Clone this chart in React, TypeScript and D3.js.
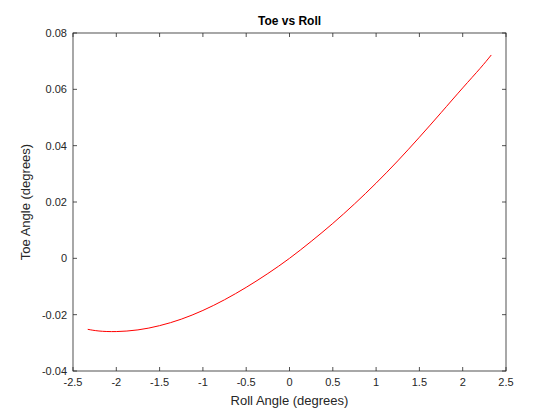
import * as d3 from "d3";

const rollAngle = [-2.33, -2.2, -2.0, -1.75, -1.5, -1.25, -1.0, -0.75, -0.5, -0.25, 0, 0.25, 0.5, 0.75, 1.0, 1.25, 1.5, 1.75, 2.0, 2.2, 2.33];
const toeAngle = [-0.0252, -0.0258, -0.0260, -0.0254, -0.0239, -0.0216, -0.0185, -0.0147, -0.0103, -0.0054, 0.0, 0.0060, 0.0124, 0.0193, 0.0267, 0.0346, 0.0430, 0.0517, 0.0605, 0.0674, 0.0722];
const xTicks = [-2.5, -2, -1.5, -1, -0.5, 0, 0.5, 1, 1.5, 2, 2.5];
const yTicks = [-0.04, -0.02, 0, 0.02, 0.04, 0.06, 0.08];

export default function App() {
  const width = 560, height = 420;
  const left = 73, right = 506, top = 33, bottom = 371;
  const x = d3.scaleLinear().domain([-2.5, 2.5]).range([left, right]);
  const y = d3.scaleLinear().domain([-0.04, 0.08]).range([bottom, top]);
  const pts = rollAngle.map((r, i) => [r, toeAngle[i]] as [number, number]);
  const line = d3.line<[number, number]>().x(d => x(d[0])).y(d => y(d[1])).curve(d3.curveNatural);
  const font = "'Liberation Sans', Arial, sans-serif";
  const c = "#262626";
  return (
    <svg width={width} height={height} style={{ position: "fixed", left: 0, top: 0, background: "#fff" }} fontFamily={font}>
      <rect x={0} y={0} width={width} height={height} fill="#fff" />
      <rect x={left} y={top} width={right - left} height={bottom - top} fill="#fff" stroke={c} strokeWidth={0.8} />
      {xTicks.map(t => (
        <g key={"x" + t}>
          <line x1={x(t)} x2={x(t)} y1={bottom} y2={bottom - 4} stroke={c} strokeWidth={0.8} />
          <line x1={x(t)} x2={x(t)} y1={top} y2={top + 4} stroke={c} strokeWidth={0.8} />
          <text x={x(t)} y={bottom + 15} textAnchor="middle" fontSize={11} fill={c}>{t}</text>
        </g>
      ))}
      {yTicks.map(t => (
        <g key={"y" + t}>
          <line x1={left} x2={left + 4} y1={y(t)} y2={y(t)} stroke={c} strokeWidth={0.8} />
          <line x1={right} x2={right - 4} y1={y(t)} y2={y(t)} stroke={c} strokeWidth={0.8} />
          <text x={left - 6} y={y(t) + 4} textAnchor="end" fontSize={11} fill={c}>{t}</text>
        </g>
      ))}
      <path d={line(pts) || ""} fill="none" stroke="#ff0000" strokeWidth={1} />
      <text x={(left + right) / 2} y={top - 8} textAnchor="middle" fontSize={12} fontWeight="bold" fill="#000">Toe vs Roll</text>
      <text x={(left + right) / 2} y={bottom + 34} textAnchor="middle" fontSize={13} fill={c}>Roll Angle (degrees)</text>
      <text transform={`translate(30,${(top + bottom) / 2}) rotate(-90)`} textAnchor="middle" fontSize={13} fill={c}>Toe Angle (degrees)</text>
    </svg>
  );
}
